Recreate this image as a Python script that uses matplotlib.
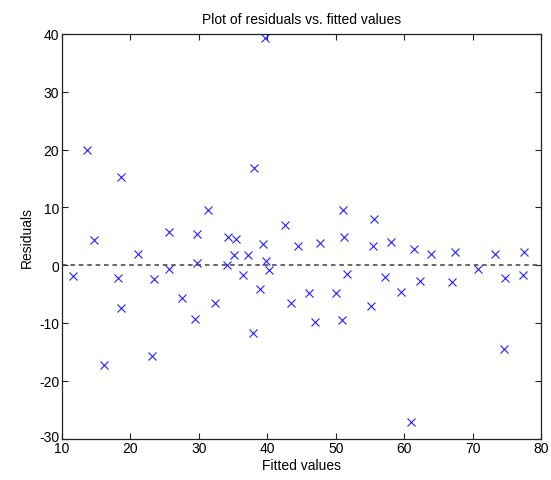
import numpy as np
import matplotlib
matplotlib.use('Agg')
import matplotlib.pyplot as plt
import matplotlib.transforms as mtransforms

# DATOS
ajustados = np.array([11.65, 13.6, 14.7, 16.2, 18.2, 18.6, 18.6, 21.15, 23.4, 23.1,
                      25.7, 25.7, 27.5, 29.7, 29.7, 29.5, 31.3, 32.3, 34.2, 35.4,
                      34.1, 35.2, 37.2, 36.4, 38.1, 37.9, 38.95, 39.4, 39.8, 40.3,
                      39.7, 42.6, 43.4, 44.5, 46.1, 47.0, 47.7, 50.1, 50.9, 51.0,
                      51.2, 51.6, 55.4, 55.6, 55.2, 57.2, 58.1, 59.6, 61.0, 61.4,
                      62.3, 63.9, 67.0, 67.5, 70.8, 73.3, 74.6, 74.8, 77.35, 77.5])
residuos = np.array([-1.8, 20.0, 4.3, -17.2, -2.2, 15.3, -7.4, 1.9, -2.4, -15.8,
                     5.7, -0.6, -5.7, 5.35, 0.3, -9.4, 9.55, -6.6, 4.8, 4.55,
                     0.07, 1.67, 1.67, -1.66, 16.8, -11.8, -4.2, 3.74, 0.64, -0.8,
                     39.3, 6.9, -6.6, 3.3, -4.8, -9.9, 3.9, -4.8, -9.5, 9.6,
                     4.9, -1.6, 3.3, 7.9, -7.0, -2.1, 4.0, -4.7, -27.1, 2.8,
                     -2.7, 2.0, -2.9, 2.25, -0.74, 2.0, -14.5, -2.3, -1.66, 2.3])
xticks = [10, 20, 30, 40, 50, 60, 70, 80]
yticks = [-30, -20, -10, 0, 10, 20, 30, 40]

plt.rcParams['font.family'] = ['Liberation Sans', 'DejaVu Sans']
plt.rcParams['axes.unicode_minus'] = False

fig = plt.figure(figsize=(5.51, 4.81), dpi=100)
ax = fig.add_axes([62/551, 41.5/481, 479/551, 404.5/481])

ax.plot(ajustados, residuos, 'x', color='#2020ff', markersize=5.5, markeredgewidth=0.8)
ax.plot([10, 80], [0, 0], '--', color='#404040', linewidth=1.1, dashes=(3, 2.5))

ax.set_xlim(10, 80)
ax.set_ylim(-30, 40)
ax.set_xticks(xticks)
ax.set_yticks(yticks)
ax.tick_params(direction='in', top=True, right=True, length=4.5, width=0.8,
               labelsize=10, pad=2, color='#222222')
for s in ax.spines.values():
    s.set_linewidth(0.9)
    s.set_color('#222222')

# la etiqueta -30 queda un poco mas arriba, como en el original
abajo = ax.get_yticklabels()[0]
abajo.set_transform(abajo.get_transform() +
                    mtransforms.ScaledTranslation(0, 3/100, fig.dpi_scale_trans))

ax.set_title('Plot of residuals vs. fitted values', fontsize=10, pad=8)
ax.set_xlabel('Fitted values', fontsize=10, labelpad=2)
ax.set_ylabel('Residuals', fontsize=10, labelpad=4)

fig.savefig('out.png', dpi=100)
